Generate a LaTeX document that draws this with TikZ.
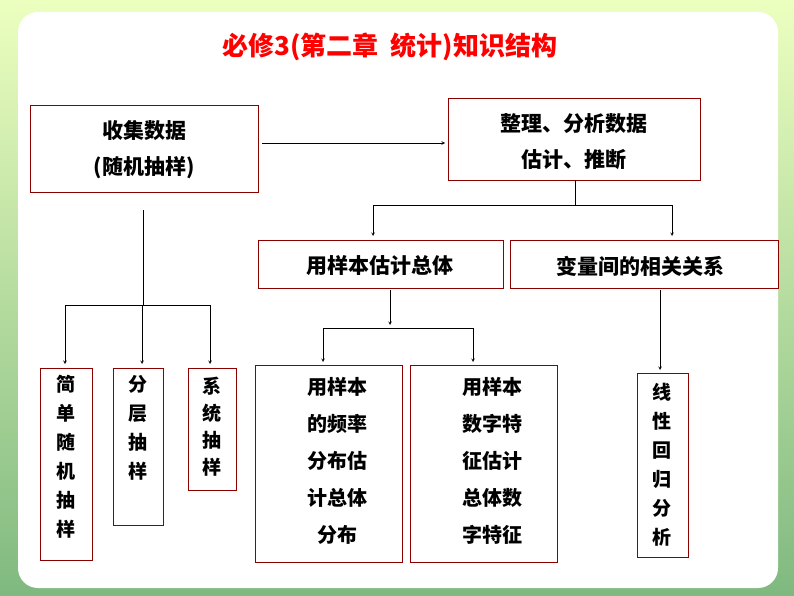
\documentclass[tikz,border=0pt]{standalone}
\usepackage{fontspec}
\newfontfamily\cjk{Noto Sans CJK SC}
\begin{document}
\begin{tikzpicture}[x=1pt,y=-1pt,
 box/.style={draw=red!55!black,line width=0.9pt,fill=white},
 txt/.style={font=\cjk\bfseries\fontsize{21}{36}\selectfont,align=center,text=black},
 vtxt/.style={font=\cjk\bfseries\fontsize{20}{37}\selectfont,align=center,text=black,anchor=north,inner sep=0pt},
 ctxt/.style={font=\cjk\bfseries\fontsize{19}{29}\selectfont,align=center,text=black,anchor=north,inner sep=0pt},
 arr/.style={-stealth,line width=0.6pt}]
\useasboundingbox (0,0) rectangle (794,596);
\shade[top color=green!30!yellow!25, bottom color=green!45!black!50] (0,0) rectangle (794,596);
\fill[white,rounded corners=20pt] (18,12) rectangle (778,588);
\node[font=\cjk\bfseries\fontsize{26}{30}\selectfont,text=red] (title) at (390,47) {必修3(第二章\ \ 统计)知识结构};
\draw[box] (30,105) rectangle (258,192);
\node[txt] (a) at (144,150) {收集数据\\(随机抽样)};
\draw[box] (448,98) rectangle (700,180);
\node[txt] (b) at (574,142) {整理、分析数据\\估计、推断};
\draw[box] (258,240) rectangle (503,288);
\node[txt] (c) at (380,266) {用样本估计总体};
\draw[box] (510,240) rectangle (778,288);
\node[txt] (d) at (640,266) {变量间的相关关系};
\draw[box] (40,368) rectangle (92,560);
\node[ctxt] (e1) at (66,375) {简\\单\\随\\机\\抽\\样};
\draw[box] (113,368) rectangle (163,525);
\node[ctxt] (e2) at (138,375) {分\\层\\抽\\样};
\draw[box] (188,368) rectangle (236,490);
\node[ctxt,font=\cjk\bfseries\fontsize{19}{27}\selectfont] (e3) at (212,377) {系\\统\\抽\\样};
\draw[box] (255,365) rectangle (402,562);
\node[vtxt] (f1) at (337,377) {用样本\\的频率\\分布估\\计总体\\分布};
\draw[box] (410,365) rectangle (557,562);
\node[vtxt] (f2) at (492,377) {用样本\\数字特\\征估计\\总体数\\字特征};
\draw[box] (637,373) rectangle (688,557);
\node[ctxt] (g) at (662,383) {线\\性\\回\\归\\分\\析};
\draw[arr] (262,143) -- (445,143);
\draw[line width=0.6pt] (575,180) -- (575,205) (373,205) -- (672,205);
\draw[arr] (373,205) -- (373,236);
\draw[arr] (672,205) -- (672,236);
\draw[line width=0.6pt] (143,210) -- (143,305) (65,305) -- (210,305);
\foreach \x in {65,142,210} \draw[arr] (\x,305) -- (\x,364);
\draw[arr] (390,290) -- (390,325);
\draw[line width=0.6pt] (323,328) -- (473,328);
\draw[arr] (323,328) -- (323,362);
\draw[arr] (473,328) -- (473,362);
\draw[arr] (660,290) -- (660,370);
\end{tikzpicture}
\end{document}
